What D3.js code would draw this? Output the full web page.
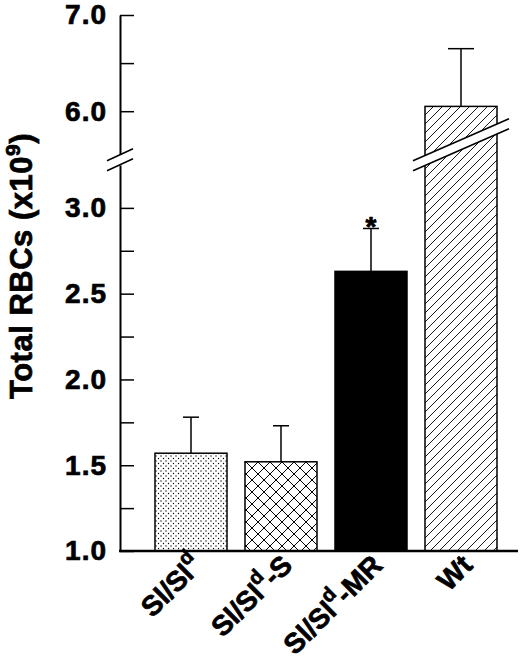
<!DOCTYPE html>
<html>
<head>
<meta charset="utf-8">
<script src="https://cdn.jsdelivr.net/npm/d3@7"></script>
<style>
  body { margin: 0; background: #fff; }
  text { font-family: "Liberation Sans", Arial, Helvetica, sans-serif; font-weight: bold; fill: #000; stroke: #000; stroke-width: 0.7px; }
</style>
</head>
<body>
<div id="chart"></div>
<script>
// groups along the x axis
const categories = ["Sl/Sl-d", "Sl/Sl-d-S", "Sl/Sl-d-MR", "Wt"];
const labelMain = ["Sl/Sl", "Sl/Sl", "Sl/Sl", "Wt"];
const labelSup = ["d", "d", "d", ""];
const labelTail = ["", "-S", "-MR", ""];

// total RBCs (x10^9), mean and upper error
const values = [1.57, 1.52, 2.63, 6.05];
const errors = [0.21, 0.21, 0.25, 0.60];
const fills = ["dots", "cross", "solid", "hatch"];
const significant = [false, false, true, false];

// y ticks, lower and upper part of the broken axis
const lowTicks = [1.0, 1.25, 1.5, 1.75, 2.0, 2.25, 2.5, 2.75, 3.0];
const lowLabels = [1.0, 1.5, 2.0, 2.5, 3.0];
const highTicks = [6.0, 6.5, 7.0];
const highLabels = [6.0, 7.0];

const width = 520;
const height = 662;
const axisX = 120;

const svg = d3.select("#chart").append("svg")
    .attr("width", width)
    .attr("height", height);

// scales
const x = d3.scaleBand().domain(categories).range([155, 497]).paddingInner(0.2).paddingOuter(0);
const yLow = d3.scaleLinear().domain([1, 3.25]).range([551, 165]);
const yHigh = d3.scaleLinear().domain([5.55, 7]).range([154.5, 15]);
const yVal = v => v <= 3.25 ? yLow(v) : yHigh(v);
const baseY = yLow(1);

// fill patterns
const defs = svg.append("defs");
const dots = defs.append("pattern").attr("id", "dots")
    .attr("patternUnits", "userSpaceOnUse").attr("width", 5).attr("height", 5);
dots.append("rect").attr("width", 5).attr("height", 5).attr("fill", "#fff");
dots.append("circle").attr("cx", 1).attr("cy", 1).attr("r", 0.7).attr("fill", "#000");
dots.append("circle").attr("cx", 3.5).attr("cy", 3.5).attr("r", 0.7).attr("fill", "#000");

const cross = defs.append("pattern").attr("id", "cross")
    .attr("patternUnits", "userSpaceOnUse").attr("width", 12).attr("height", 12);
cross.append("rect").attr("width", 12).attr("height", 12).attr("fill", "#fff");
cross.append("path").attr("d", "M0,0L12,12M12,0L0,12").attr("stroke", "#000").attr("stroke-width", 1);

const hatch = defs.append("pattern").attr("id", "hatch")
    .attr("patternUnits", "userSpaceOnUse").attr("width", 9).attr("height", 9);
hatch.append("rect").attr("width", 9).attr("height", 9).attr("fill", "#fff");
hatch.append("path").attr("d", "M-1,1L1,-1M0,9L9,0M8,10L10,8").attr("stroke", "#000").attr("stroke-width", 0.9);

const fillOf = f => f === "solid" ? "#000" : `url(#${f})`;

// bars
svg.append("g").selectAll("rect")
    .data(categories)
    .join("rect")
    .attr("x", d => x(d))
    .attr("y", (d, i) => yVal(values[i]))
    .attr("width", x.bandwidth())
    .attr("height", (d, i) => baseY - yVal(values[i]))
    .attr("fill", (d, i) => fillOf(fills[i]))
    .attr("stroke", "#000")
    .attr("stroke-width", 1.5);

// error bars, upper side only
const err = svg.append("g").attr("stroke", "#000").attr("stroke-width", 1.5);
categories.forEach((c, i) => {
    const cx = x(c) + x.bandwidth() / 2;
    const top = yVal(values[i] + errors[i]);
    const cap = values[i] > 3.25 ? 13 : 8;
    err.append("line").attr("x1", cx).attr("x2", cx).attr("y1", yVal(values[i])).attr("y2", top);
    err.append("line").attr("x1", cx - cap).attr("x2", cx + cap).attr("y1", top).attr("y2", top);
    if (significant[i]) {
        svg.append("text").attr("x", cx).attr("y", top + 8)
            .attr("text-anchor", "middle").attr("font-size", 28).text("*");
    }
});

// break through the Wt bar
const breakY = (yHigh(5.55) + yLow(3.25)) / 2;
categories.forEach((c, i) => {
    if (values[i] <= 3.25) return;
    const cx = x(c) + x.bandwidth() / 2;
    const cy = breakY - 15;
    const hw = x.bandwidth() / 2 + 12, hd = 21, gap = 5;
    svg.append("path")
        .attr("d", `M${cx - hw},${cy - gap + hd}L${cx + hw},${cy - gap - hd}L${cx + hw},${cy + gap - hd}L${cx - hw},${cy + gap + hd}Z`)
        .attr("fill", "#fff");
    [-gap, gap].forEach(o => {
        svg.append("line")
            .attr("x1", cx - hw).attr("y1", cy + o + hd)
            .attr("x2", cx + hw).attr("y2", cy + o - hd)
            .attr("stroke", "#000").attr("stroke-width", 1.5);
    });
});

// y axis, two pieces
function styleAxis(g) {
    g.select(".domain").attr("stroke-width", 2);
    g.selectAll(".tick line").attr("stroke-width", 1.5);
    g.selectAll(".tick text")
        .attr("font-size", 28)
        .attr("letter-spacing", 1)
        .attr("font-family", null)
        .attr("fill", "#000");
}

svg.append("g")
    .attr("transform", `translate(${axisX},0)`)
    .call(d3.axisLeft(yLow).tickValues(lowTicks).tickSizeInner(-14).tickSizeOuter(0).tickPadding(13)
        .tickFormat(d => lowLabels.includes(d) ? d3.format(".1f")(d) : ""))
    .call(styleAxis);

svg.append("g")
    .attr("transform", `translate(${axisX},0)`)
    .call(d3.axisLeft(yHigh).tickValues(highTicks).tickSizeInner(-14).tickSizeOuter(0).tickPadding(13)
        .tickFormat(d => highLabels.includes(d) ? d3.format(".1f")(d) : ""))
    .call(styleAxis);

// slashes on the axis break
[-5, 5].forEach(o => {
    svg.append("line")
        .attr("x1", axisX - 13).attr("y1", breakY + o + 6)
        .attr("x2", axisX + 13).attr("y2", breakY + o - 6)
        .attr("stroke", "#000").attr("stroke-width", 1.5);
});

// x axis line
svg.append("line")
    .attr("x1", axisX - 1).attr("x2", width - 2)
    .attr("y1", baseY).attr("y2", baseY)
    .attr("stroke", "#000").attr("stroke-width", 2.5);

// category labels, slanted
categories.forEach((c, i) => {
    const cx = x(c) + x.bandwidth() / 2;
    const t = svg.append("text")
        .attr("transform", `translate(${cx + 13},${baseY + 16}) rotate(-45)`)
        .attr("text-anchor", "end")
        .attr("font-size", 28);
    t.append("tspan").text(labelMain[i]);
    if (labelSup[i]) {
        t.append("tspan").attr("font-size", 20).attr("dy", -13).text(labelSup[i]);
        if (labelTail[i]) t.append("tspan").attr("dy", 13).text(labelTail[i]);
    }
});

// y axis title
const title = svg.append("text")
    .attr("transform", `translate(32,266) rotate(-90)`)
    .attr("text-anchor", "middle")
    .attr("font-size", 31)
    .attr("letter-spacing", 0.5);
title.append("tspan").text("Total RBCs (x10");
title.append("tspan").attr("font-size", 21).attr("dy", -12).text("9");
title.append("tspan").attr("dy", 12).text(")");
</script>
</body>
</html>
